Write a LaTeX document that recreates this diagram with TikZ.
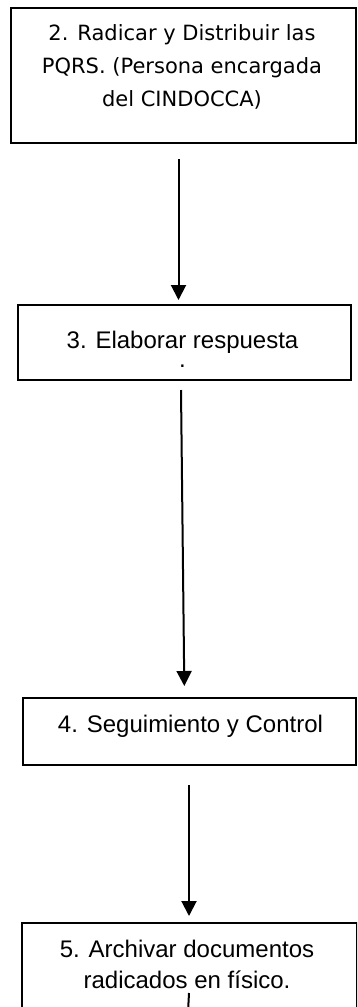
\documentclass[tikz,border=0pt]{standalone}
\usepackage{fontspec}
\setmainfont{Liberation Sans}
\newfontfamily\tahoma{DejaVu Sans}
\usetikzlibrary{arrows.meta}
\begin{document}
\begin{tikzpicture}[x=1pt,y=-1pt,
  box/.style={draw=black, line width=2pt, rectangle, inner sep=0pt, anchor=north west},
  txt/.style={inner sep=0pt, align=center, anchor=base, font=\fontsize{24}{27.6}\selectfont},
  arr/.style={draw=black, line width=2pt, -{Triangle[width=15pt,length=15pt]}},
  plain/.style={draw=black, line width=2pt}]
\useasboundingbox (0,0) rectangle (357,1007);
\clip (0,0) rectangle (357,1007);
% boxes
\node[box, minimum width=345pt, minimum height=135pt] (b1) at (10,7) {};
\node[box, minimum width=333pt, minimum height=75pt] (b2) at (17,304) {};
\node[box, minimum width=333pt, minimum height=67pt] (b3) at (22,697) {};
\node[box, minimum width=335pt, minimum height=100pt] (b4) at (21,922) {};
% texts (anchor = baseline of last line)
\node[txt, font=\tahoma\fontsize{21}{33}\selectfont] (t1) at (182,106) {2. Radicar y Distribuir las\\PQRS. (Persona encargada\\del CINDOCCA)};
\node[txt] (t2) at (182.5,367) {3. Elaborar respuesta\\[-8.6pt].};
\node[txt] (t3) at (190.5,732) {4. Seguimiento y Control};
\node[txt, font=\fontsize{24}{31}\selectfont] (t4) at (187,988) {5. Archivar documentos\\radicados en físico.};
% connectors
\draw[arr] ([shift={(-5,15)}]b1.south) -- ([shift={(-6,-4)}]b2.north);
\draw[arr] ([shift={(-3.5,9)}]b2.south) -- ([shift={(-5.2,-11)}]b3.north);
\draw[arr] ([shift={(-0.5,19)}]b3.south) -- ([shift={(-0.5,-6)}]b4.north);
\coordinate (e5) at (188,1012);
\draw[plain] ([shift={(-0.5,71)}]b4.north) -- (e5);
\end{tikzpicture}
\end{document}
